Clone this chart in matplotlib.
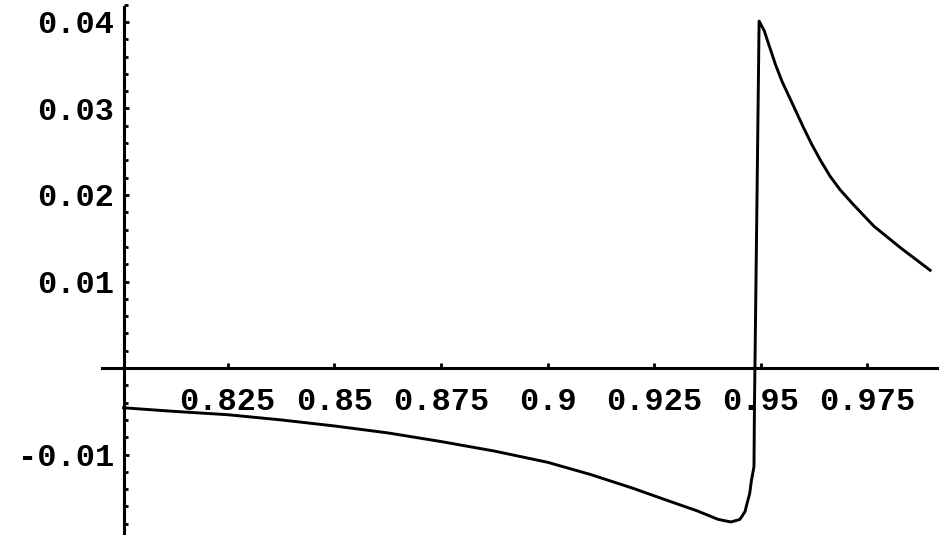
import matplotlib.pyplot as plt
from matplotlib.ticker import FixedLocator, MultipleLocator

plt.rcParams['font.family'] = ['Liberation Mono', 'DejaVu Sans Mono']
plt.rcParams['font.weight'] = 'bold'

# curve (Mathematica style plot)
x_values = [0.8006, 0.8120, 0.8250, 0.8375, 0.8500, 0.8625, 0.8750, 0.8875,
            0.9000, 0.9100, 0.9200, 0.9280, 0.9350, 0.9400, 0.9430, 0.9451,
            0.9463, 0.9468, 0.9474, 0.9478, 0.9484, 0.9485, 0.9491, 0.9496,
            0.9508, 0.9520, 0.9535, 0.9550, 0.9568, 0.9585, 0.9600, 0.9620,
            0.9640, 0.9662, 0.9686, 0.9715, 0.9740, 0.9765, 0.9800, 0.9830,
            0.9865, 0.9897]
y_values = [-0.0046, -0.0050, -0.0054, -0.0060, -0.0067, -0.0075, -0.0085, -0.0096,
            -0.0109, -0.0123, -0.0139, -0.0153, -0.0165, -0.0175, -0.0178, -0.0175,
            -0.0166, -0.0156, -0.0145, -0.0130, -0.0114, -0.0049,
            0.0194, 0.0401, 0.0390, 0.0372, 0.0350, 0.0331, 0.0312, 0.0294,
            0.0278, 0.0258, 0.0240, 0.0222, 0.0206, 0.0190, 0.0177, 0.0164,
            0.0150, 0.0138, 0.0125, 0.0113]

x_ticks = [0.825, 0.85, 0.875, 0.9, 0.925, 0.95, 0.975]
x_tick_labels = ['0.825', '0.85', '0.875', '0.9', '0.925', '0.95', '0.975']
y_ticks = [-0.01, 0.01, 0.02, 0.03, 0.04]
y_tick_labels = ['-0.01', '0.01', '0.02', '0.03', '0.04']

x_origin = x_values[0]

fig = plt.figure(figsize=(9.39, 5.35), dpi=100)
ax = fig.add_axes([102 / 939, 0, 837 / 939, 1])

ax.plot(x_values, y_values, color='black', lw=2.1)

ax.set_xlim(0.79553, 0.99178)
ax.set_ylim(-0.019306, 0.042543)

for side in ['top', 'right']:
    ax.spines[side].set_visible(False)
ax.spines['left'].set_position(('data', x_origin))
ax.spines['bottom'].set_position(('data', 0))
ax.spines['left'].set_bounds(-0.019306, 0.0417)
for side in ['left', 'bottom']:
    ax.spines[side].set_linewidth(2.2)

ax.xaxis.set_major_locator(FixedLocator(x_ticks))
ax.set_xticklabels(x_tick_labels)
ax.yaxis.set_major_locator(FixedLocator(y_ticks))
ax.set_yticklabels(y_tick_labels)
ax.yaxis.set_minor_locator(MultipleLocator(0.002))

ax.tick_params(axis='x', direction='in', length=3.5, width=2, pad=14, labelsize=23)
ax.tick_params(axis='y', which='major', direction='in', length=3.5, width=2, pad=7, labelsize=23)
ax.tick_params(axis='y', which='minor', direction='in', length=3, width=2)

fig.savefig('out.png', dpi=100)
plt.close(fig)
